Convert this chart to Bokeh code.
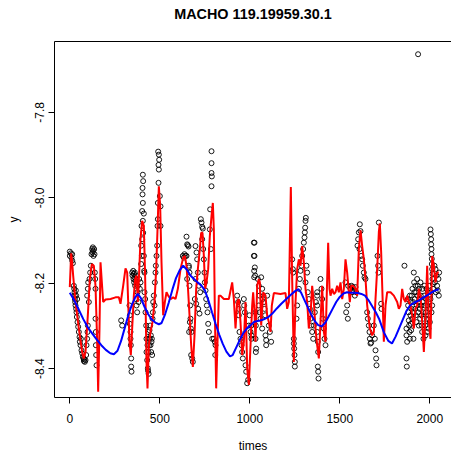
import math
from bokeh.plotting import figure
from bokeh.models import Range1d, FixedTicker, LinearAxis
from bokeh.embed import file_html
from bokeh.resources import INLINE

TITLE = "MACHO 119.19959.30.1"
X_LABEL = "times"
Y_LABEL = "y"
X_TICKS = [0, 500, 1000, 1500, 2000]
Y_TICKS = [-8.4, -8.2, -8.0, -7.8]
Y_TICK_LABELS = ["-8.4", "-8.2", "-8.0", "-7.8"]

# observed points, by observing season
s1_t = [0, 0.2, 5.8, 9.5, 13.2, 13.2, 17, 22.5, 24.3, 26.2, 28, 28, 29.9, 31.7, 33.6, 35.4, 35.4, 37.3, 39.1, 41, 42.8,
        46.5, 50.2, 54, 55.8, 59.5, 61.4, 65, 68.8, 72.5, 76.2, 78, 79.9, 83.6, 87.3, 91, 92.8, 96.5, 98.4, 100.2,
        96.5, 100.2, 102.1, 105.8, 109.5, 113.2, 116.9, 120.6, 124.3, 126.2, 128, 129.9, 131.7, 135.4, 137.3, 139.1,
        141, 142.8, 142.8, 144.7, 144.7, 146.5, 148.4]
s1_y = [-8.126, -8.136, -8.130, -8.140, -8.132, -8.147, -8.153, -8.206, -8.213, -8.221, -8.229, -8.237, -8.244, -8.252,
        -8.217, -8.229, -8.260, -8.268, -8.279, -8.237, -8.291, -8.302, -8.314, -8.326, -8.337, -8.345, -8.330, -8.357,
        -8.364, -8.372, -8.376, -8.382, -8.378, -8.384, -8.380, -8.368, -8.345, -8.330, -8.314, -8.299, -8.229, -8.213,
        -8.198, -8.244, -8.190, -8.175, -8.159, -8.132, -8.120, -8.128, -8.116, -8.124, -8.136, -8.120, -8.132, -8.175,
        -8.190, -8.213, -8.283, -8.314, -8.345, -8.368, -8.392]

s2_t = [285.4, 291, 331.7, 333.6, 333.6, 337.3, 337.3, 339.1, 341, 341, 342.8, 346.5, 348.4, 352.1, 353.9, 355.8,
        357.6, 359.5, 361.3, 363.2, 365, 366.9, 368.7, 370.6, 374.3, 376.2, 378, 381.7, 385.4, 389.1, 392.8, 396.5,
        396.5, 398.4, 400.2, 402.1, 402.1, 404, 404, 405.8, 405.8, 405.8, 407.6, 407.6, 411.3, 411.3, 413.2, 415,
        415, 418.7, 420.6, 424.3, 426.1, 426.1, 429.9, 431.7, 433.6, 435.4, 437.3, 439.1, 441, 442.8, 444.7, 446.5,
        448.4, 450.2, 452.1, 453.9, 455.8, 457.6, 459.5, 461.3, 463.2, 466.9, 470.6, 472.5, 476.2, 478, 481.7, 485.4,
        487.3, 489.1, 489.1, 491, 492.8, 492.8, 494.7, 494.7, 496.5, 500.2, 504, 504, 435, 438]
s2_y = [-8.287, -8.299, -8.252, -8.275, -8.295, -8.314, -8.330, -8.345, -8.376, -8.395, -8.407, -8.175, -8.182,
        -8.171, -8.190, -8.178, -8.198, -8.186, -8.175, -8.206, -8.194, -8.182, -8.237, -8.252, -8.268, -8.221,
        -8.206, -8.244, -8.190, -8.213, -8.198, -8.155, -8.112, -8.066, -8.136, -8.097, -8.031, -7.977, -7.992,
        -7.946, -8.012, -8.054, -7.961, -8.082, -8.037, -8.136, -8.171, -8.221, -8.175, -8.237, -8.268, -8.299,
        -8.330, -8.361, -8.380, -8.345, -8.399, -8.314, -8.361, -8.330, -8.345, -8.310, -8.330, -8.299, -8.345,
        -8.322, -8.361, -8.337, -8.330, -8.368, -8.283, -8.268, -8.244, -8.229, -8.252, -8.198, -8.175, -8.159,
        -8.136, -8.112, -8.066, -8.050, -8.012, -7.892, -7.965, -7.923, -7.934, -7.899, -7.911, -7.996, -8.020,
        -8.066, -8.405, -8.412]

s3_t = [628, 633.6, 637, 642.8, 648.4, 652, 655.8, 659.5, 661.4, 665, 652, 667, 663, 648.4, 661.3, 665, 668.7,
        670.6, 672.4, 676, 674.3, 680, 683.5, 698.4, 704, 707.6, 711.3, 698.4, 716.9, 694.7, 702, 713.2, 720.6, 724.3,
        728, 731.7, 735.4, 739.1, 735.4, 741, 744.7, 748.4, 750.2, 754, 757.6, 761.3, 765, 768.7, 772.4, 778, 779.8,
        783.6, 787.3, 787.3, 787.3, 789.1, 787.3, 791, 800, 805.8, 809.5, 808]
s3_y = [-8.136, -8.140, -8.132, -8.136, -8.091, -8.109, -8.111, -8.114, -8.159, -8.175, -8.190, -8.291, -8.314,
        -8.136, -8.163, -8.206, -8.252, -8.283, -8.306, -8.314, -8.368, -8.376, -8.384, -8.113, -8.128, -8.144,
        -8.175, -8.190, -8.206, -8.237, -8.248, -8.260, -8.271, -8.221, -8.050, -8.058, -8.068, -8.072, -8.097,
        -8.120, -8.144, -8.175, -8.198, -8.217, -8.237, -8.252, -8.268, -8.295, -8.314, -8.074, -8.027, -8.120,
        -7.891, -7.919, -7.942, -7.950, -7.973, -8.330, -8.330, -8.337, -8.345, -8.368]

s4_t = [929.9, 935.4, 939.1, 939.1, 942.8, 948.4, 954, 957.6, 961.3, 966.9, 968.8, 972.5, 976.2, 979.9, 985.4, 991,
        994.7, 998.4, 1004, 1009.5, 1022.5, 1022.5, 1024.3, 1024.3, 1007.6, 1009.5, 1026.1, 1026.1, 1028, 1029.8,
        1031.7, 1033.5, 1031.7, 1035.4, 1033.5, 1044.6, 1050.2, 1053.9, 1050.2, 1055.8, 1059.5, 1063.2, 1068.7,
        1072.4, 1068.7, 1078, 1081.7, 1085.4, 1087.2, 1091, 1091, 1096.5, 1105.8, 1111.3, 1118.7]
s4_y = [-8.229, -8.244, -8.260, -8.275, -8.314, -8.330, -8.345, -8.361, -8.376, -8.237, -8.252, -8.268, -8.392,
        -8.407, -8.434, -8.426, -8.299, -8.275, -8.314, -8.330, -8.105, -8.136, -8.171, -8.186, -8.299, -8.322,
        -8.105, -8.136, -8.163, -8.182, -8.268, -8.299, -8.330, -8.353, -8.361, -8.190, -8.206, -8.229, -8.252,
        -8.268, -8.283, -8.186, -8.213, -8.237, -8.306, -8.244, -8.260, -8.275, -8.322, -8.333, -8.345, -8.229,
        -8.299, -8.314, -8.337]

s5_t = [1235.4, 1239.1, 1241, 1244.7, 1244.7, 1246.5, 1248.4, 1250.2, 1250.2, 1259.5, 1263.2, 1272.5, 1278, 1281.7,
        1287.3, 1291, 1296.5, 1300.2, 1304, 1305.8, 1307.6, 1309.5, 1311.3, 1315, 1318.7, 1309.5, 1322.4, 1328,
        1333.5, 1337.3, 1341, 1346.5, 1352.1, 1355.8, 1361.3, 1366.9, 1374.3, 1374.3, 1374.3, 1374.3, 1378, 1379.8,
        1378, 1379.8, 1381.7, 1392.8, 1398.3, 1402, 1405.7, 1411.3, 1415, 1420.6]
s5_y = [-8.144, -8.167, -8.175, -8.330, -8.341, -8.353, -8.368, -8.384, -8.395, -8.283, -8.252, -8.213, -8.190,
        -8.171, -8.159, -8.136, -8.120, -8.105, -8.093, -8.081, -8.070, -8.054, -8.047, -8.159, -8.175, -8.198,
        -8.221, -8.237, -8.260, -8.283, -8.299, -8.314, -8.330, -8.299, -8.268, -8.244, -8.229, -8.221, -8.252,
        -8.314, -8.337, -8.361, -8.395, -8.407, -8.423, -8.190, -8.213, -8.237, -8.283, -8.306, -8.330, -8.345]

s6_t = [1531.7, 1535.4, 1541, 1544.6, 1546.5, 1559.5, 1565, 1568.7, 1572.4, 1578, 1583.5, 1587.2, 1591, 1598.4, 1602,
        1605.8, 1611.3, 1615, 1609.4, 1618.7, 1624.3, 1628, 1633.5, 1637.2, 1642.8, 1652, 1655.8, 1661.3, 1665,
        1670.6, 1674.3, 1666.9, 1679.8, 1689, 1694.7, 1698.4, 1702, 1704, 1709.5, 1713.2, 1715, 1716.9, 1729.7,
        1731.6]
s6_y = [-8.198, -8.268, -8.252, -8.283, -8.206, -8.213, -8.206, -8.221, -8.209, -8.217, -8.229, -8.209, -8.221,
        -8.112, -8.097, -8.081, -8.062, -8.078, -8.120, -8.136, -8.144, -8.159, -8.175, -8.186, -8.190, -8.268,
        -8.283, -8.299, -8.314, -8.341, -8.339, -8.330, -8.322, -8.299, -8.330, -8.357, -8.376, -8.392, -8.136,
        -8.159, -8.175, -8.058, -8.248, -8.260]

s7_t = [1859.3, 1870.5, 1870.5, 1874.2, 1870.5, 1872.3, 1877.9, 1879.7, 1881.6, 1883.4, 1885.3, 1887.1, 1889, 1889,
        1892.7, 1892.7, 1894.5, 1896.4, 1898.2, 1900.1, 1901.9, 1903.8, 1905.6, 1907.5, 1909.3, 1911.2, 1913, 1914.9,
        1916.8, 1918.6, 1920.5, 1922.3, 1924.2, 1926, 1927.9, 1929.7, 1931.6, 1933.4, 1935.3, 1937.1, 1939, 1940.8,
        1942.7, 1944.5, 1946.4, 1948.2, 1950.1, 1951.9, 1953.8, 1955.6, 1957.5, 1959.4, 1961.2, 1963.1, 1964.9,
        1966.8, 1968.6, 1970.5, 1972.3, 1974.2, 1976, 1977.9, 1979.7, 1981.6, 1983.4, 1985.3, 1987.1, 1989, 1990.8,
        1992.7, 1994.5, 1996.4, 1998.2, 2000.1, 2001.9, 2003.8, 2005.7, 2007.5, 2007.5, 2009.4, 2009.4, 2011.2,
        2011.2, 2013.1, 2014.9, 2014.9, 2016.8, 2018.6, 2007.5, 2003.8, 2013.1, 2009.4, 2026, 2031.6, 2037.1, 2040.8,
        2044.5, 2050.1, 2048.2, 2052, 2027.9, 2033.4, 1935]
s7_y = [-8.159, -8.306, -8.322, -8.337, -8.376, -8.395, -8.237, -8.252, -8.268, -8.287, -8.299, -8.314, -8.330,
        -8.229, -8.244, -8.275, -8.295, -8.310, -8.260, -8.229, -8.283, -8.213, -8.268, -8.244, -8.330, -8.175,
        -8.198, -8.221, -8.237, -8.260, -8.206, -8.275, -8.221, -8.291, -8.252, -8.190, -8.229, -8.206, -8.268,
        -8.244, -8.299, -8.213, -8.237, -8.260, -8.283, -8.198, -8.229, -8.252, -8.275, -8.299, -8.314, -8.213,
        -8.244, -8.268, -8.330, -8.283, -8.229, -8.206, -8.252, -8.299, -8.322, -8.268, -8.237, -8.213, -8.283,
        -8.314, -8.252, -8.221, -8.275, -8.306, -8.244, -8.206, -8.260, -8.291, -8.229, -8.074, -8.085, -8.097,
        -8.109, -8.120, -8.132, -8.143, -8.155, -8.167, -8.178, -8.190, -8.202, -8.213, -8.221, -8.237, -8.252,
        -8.268, -8.159, -8.167, -8.182, -8.206, -8.217, -8.229, -8.190, -8.175, -8.198, -8.221, -7.664]

# red fitted line
red_t = [0, 7.6, 13, 18.7, 31.7, 50.2, 68.7, 78, 87.3, 100.2, 111.3, 122.4, 133.6, 142.8, 152, 157.6, 165, 170.6,
         178, 185.4, 198.4, 226.2, 254, 272.5, 281.7, 296.5, 309.5, 318.8, 324.3, 331.7, 339.1, 346.5, 355.8, 363.2,
         370.6, 378, 385.4, 392.8, 402.1, 411.4, 418.8, 426.2, 431.7, 439.1, 448.4, 459.5, 470.6, 479.9, 487.3,
         494.7, 502.1, 509.5, 518.8, 528, 537.3, 546.6, 559.5, 574.3, 587.3, 600.3, 615.1, 629.9, 639.2, 648.4,
         655.8, 665.1, 674.3, 683.6, 692.9, 702.1, 711.4, 720.6, 729.9, 737.3, 744.7, 752.1, 759.5, 768.8, 778,
         787.3, 794.7, 800.3, 805.8, 813.2, 820.7, 828, 837.3, 855.8, 883.6, 902.1, 911.4, 920.7, 930, 939.2, 948.4,
         957.7, 967, 976.2, 985.5, 994.7, 1004, 1013.2, 1018.7, 1026.1, 1031.7, 1041, 1050.2, 1055.8, 1063.2,
         1074.3, 1087.3, 1096.5, 1105.8, 1115, 1122.4, 1133.6, 1170.6, 1198.4, 1207.6, 1216.9, 1228, 1235.4,
         1244.7, 1254, 1263.2, 1272.5, 1281.7, 1291, 1300.2, 1309.5, 1318.8, 1328, 1337.3, 1346.5, 1355.8, 1365,
         1374.3, 1383.6, 1392.8, 1402.1, 1411.4, 1420.6, 1429.9, 1435.4, 1442.8, 1448.4, 1457.7, 1466.9, 1476.2,
         1485.4, 1494.7, 1504, 1513.2, 1522.5, 1531.7, 1541, 1550.3, 1555.8, 1563.2, 1574.3, 1587.3, 1596.6,
         1605.8, 1615.1, 1624.3, 1633.6, 1642.9, 1652.1, 1667, 1680, 1689.2, 1698.4, 1707.7, 1717, 1722.5, 1729.9,
         1737.3, 1744.7, 1754, 1763.2, 1781.8, 1800.3, 1818.8, 1828, 1837.3, 1846.6, 1855.8, 1865.1, 1874.4,
         1883.6, 1892.9, 1902.1, 1911.4, 1920.7, 1929.9, 1939.2, 1948.4, 1957.7, 1967, 1976.2, 1985.5, 1994.8,
         2004, 2013.3, 2022.5, 2031.8, 2041, 2050]
red_y = [-8.209, -8.130, -8.151, -8.182, -8.244, -8.306, -8.361, -8.376, -8.361, -8.275, -8.190, -8.155, -8.159,
         -8.206, -8.337, -8.454, -8.306, -8.151, -8.198, -8.244, -8.238, -8.237, -8.233, -8.233, -8.248, -8.206,
         -8.165, -8.175, -8.244, -8.337, -8.368, -8.306, -8.229, -8.190, -8.182, -8.244, -8.175, -8.097, -8.054,
         -8.066, -8.190, -8.384, -8.446, -8.345, -8.314, -8.291, -8.244, -8.167, -8.074, -7.973, -8.020, -8.151,
         -8.275, -8.244, -8.221, -8.229, -8.237, -8.233, -8.237, -8.213, -8.167, -8.140, -8.136, -8.159, -8.206,
         -8.275, -8.345, -8.396, -8.322, -8.213, -8.167, -8.128, -8.082, -8.082, -8.136, -8.213, -8.198, -8.167,
         -8.089, -8.043, -8.012, -8.074, -8.268, -8.446, -8.337, -8.229, -8.229, -8.237, -8.237, -8.198, -8.237,
         -8.306, -8.244, -8.237, -8.291, -8.368, -8.337, -8.244, -8.399, -8.438, -8.345, -8.252, -8.221, -8.268,
         -8.337, -8.206, -8.190, -8.198, -8.299, -8.221, -8.229, -8.275, -8.291, -8.314, -8.252, -8.223, -8.225,
         -8.223, -8.260, -8.244, -7.975, -8.190, -8.384, -8.244, -8.167, -8.144, -8.159, -8.113, -8.151, -8.213,
         -8.244, -8.306, -8.275, -8.206, -8.244, -8.306, -8.345, -8.376, -8.291, -8.206, -8.314, -8.337, -8.190,
         -8.105, -8.213, -8.229, -8.213, -8.225, -8.221, -8.206, -8.221, -8.198, -8.237, -8.213, -8.144, -8.175,
         -8.221, -8.244, -8.206, -8.206, -8.213, -8.229, -8.120, -8.076, -8.113, -8.144, -8.190, -8.252, -8.306,
         -8.322, -8.314, -8.237, -8.167, -8.080, -8.060, -8.128, -8.229, -8.337, -8.252, -8.221, -8.221, -8.229,
         -8.244, -8.260, -8.252, -8.213, -8.237, -8.244, -8.229, -8.244, -8.252, -8.275, -8.306, -8.260, -8.252,
         -8.213, -8.229, -8.290, -8.361, -8.275, -8.159, -8.291, -8.330, -8.136, -8.159, -8.198, -8.175, -8.175]

# blue smooth trend
blue_t = [0, 25, 50, 75, 100, 125, 150, 175, 200, 225, 245, 265, 285, 305, 325, 345, 365, 378, 395, 415, 435, 455,
          475, 495, 510, 530, 550, 570, 590, 610, 630, 650, 670, 690, 710, 730, 750, 770, 790, 810, 830, 850, 870,
          890, 905, 925, 945, 965, 985, 1005, 1025, 1050, 1075, 1100, 1125, 1150, 1175, 1200, 1225, 1250, 1270,
          1285, 1300, 1320, 1340, 1360, 1380, 1400, 1420, 1440, 1460, 1480, 1500, 1520, 1540, 1560, 1580, 1600,
          1620, 1640, 1660, 1680, 1700, 1720, 1745, 1770, 1790, 1810, 1830, 1850, 1870, 1890, 1915, 1940, 1965,
          1990, 2015, 2035, 2050]
blue_y = [-8.222, -8.240, -8.262, -8.284, -8.303, -8.318, -8.332, -8.345, -8.356, -8.364, -8.366, -8.358, -8.335,
          -8.305, -8.275, -8.250, -8.232, -8.225, -8.235, -8.255, -8.272, -8.285, -8.292, -8.296, -8.293, -8.272,
          -8.245, -8.215, -8.188, -8.170, -8.159, -8.168, -8.182, -8.190, -8.198, -8.205, -8.216, -8.240, -8.268,
          -8.295, -8.320, -8.342, -8.360, -8.371, -8.368, -8.350, -8.332, -8.316, -8.305, -8.298, -8.290, -8.288,
          -8.285, -8.280, -8.271, -8.259, -8.248, -8.238, -8.228, -8.219, -8.214, -8.222, -8.236, -8.254, -8.272,
          -8.288, -8.298, -8.301, -8.292, -8.276, -8.260, -8.244, -8.232, -8.224, -8.221, -8.222, -8.222, -8.223,
          -8.225, -8.229, -8.240, -8.254, -8.268, -8.285, -8.315, -8.335, -8.341, -8.325, -8.305, -8.285, -8.265,
          -8.252, -8.245, -8.240, -8.233, -8.227, -8.220, -8.216, -8.214]

pt_t = s1_t + s2_t + s3_t + s4_t + s5_t + s6_t + s7_t
pt_y = s1_y + s2_y + s3_y + s4_y + s5_y + s6_y + s7_y

FONT = "Liberation Sans"

p = figure(width=451, height=455, output_backend="svg", toolbar_location=None,
           x_range=Range1d(-85, 2120.6), y_range=Range1d(-8.4674, -7.6342),
           min_border_left=54, min_border_right=0, min_border_top=41, min_border_bottom=56,
           background_fill_color="white", border_fill_color="white", title=None)
p.outline_line_color = None
p.xgrid.visible = False
p.ygrid.visible = False

for ax in (p.xaxis[0], p.yaxis[0]):
    ax.major_tick_out = 6
    ax.major_tick_in = 0
    ax.minor_tick_line_color = None
    ax.major_tick_line_color = "black"
    ax.axis_line_color = "black"
    ax.major_label_text_font = FONT
    ax.major_label_text_font_size = "12px"
    ax.major_label_text_color = "black"
    ax.axis_label_text_font = FONT
    ax.axis_label_text_font_size = "12px"
    ax.axis_label_text_font_style = "normal"
    ax.axis_label_text_color = "black"

xa = p.xaxis[0]
xa.ticker = FixedTicker(ticks=X_TICKS)
xa.major_label_standoff = 10
xa.axis_label = X_LABEL
xa.axis_label_standoff = 13

ya = p.yaxis[0]
ya.ticker = FixedTicker(ticks=Y_TICKS)
ya.major_label_overrides = {t: s for t, s in zip(Y_TICKS, Y_TICK_LABELS)}
ya.major_label_orientation = "vertical"
ya.major_label_standoff = 4
ya.axis_label = Y_LABEL
ya.axis_label_standoff = 12

# top edge of the box, carrying the title
top_axis = LinearAxis(ticker=FixedTicker(ticks=[]), axis_line_color="black", major_tick_line_color=None,
                      minor_tick_line_color=None, major_label_standoff=0, major_tick_out=0, major_tick_in=0,
                      axis_label=TITLE, axis_label_standoff=20, axis_label_text_font=FONT,
                      axis_label_text_font_size="14.4px", axis_label_text_font_style="bold",
                      axis_label_text_color="black")
p.add_layout(top_axis, "above")

p.scatter(pt_t, pt_y, marker="circle", size=5, fill_color=None, line_color="black", line_width=0.9)
p.line(red_t, red_y, line_color="#FF0000", line_width=2)
p.line(blue_t, blue_y, line_color="#0000FF", line_width=2)

open("out.html", "w").write(file_html(p, INLINE))
